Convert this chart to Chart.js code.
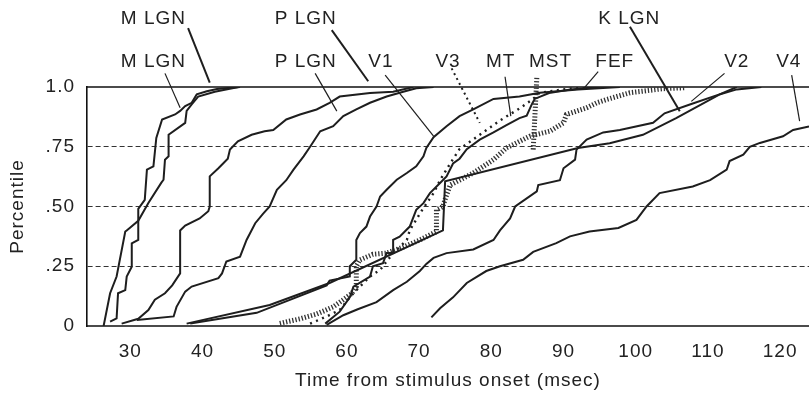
<!DOCTYPE html>
<html><head><meta charset="utf-8">
<script src="https://cdn.jsdelivr.net/npm/chart.js@4/dist/chart.umd.min.js"></script>
<style>html,body{margin:0;padding:0;background:#fff;}#wrap{width:809px;height:396px;}</style>
</head><body><div id="wrap"><canvas id="c" width="809" height="396"></canvas></div>
<script>
// ---- tick values / labels ----
const xTickValues = [30,40,50,60,70,80,90,100,110,120];
const xTickLabels = ['30','40','50','60','70','80','90','100','110','120'];
const yTickValues = [0,0.25,0.5,0.75,1];
const yTickLabels = ['0','.25','.50','.75','1.0'];
const gridValues = [0.25,0.5,0.75];

// ---- series (time msec, percentile) ----
const mLgnA_t = [26.3,27.2,28.1,29.3,29.5,31.1,32.5,34.3,34.6,34.8,35.3,35.3,37.6,37.8,38.5,39.4,41.7,45.0];
const mLgnA_p = [0,0.137,0.207,0.395,0.40,0.44,0.515,0.60,0.612,0.696,0.71,0.80,0.85,0.90,0.927,0.96,0.98,1.0];
const mLgnB_t = [27.2,28.1,28.3,29.3,29.5,30.2,30.2,31.1,31.1,32.0,32.3,33.2,33.6,34.4,36.2,36.9,37.6,38.5,39.2,40.6,42.0,45.2];
const mLgnB_p = [0.018,0.032,0.137,0.15,0.207,0.248,0.346,0.36,0.49,0.528,0.654,0.668,0.787,0.864,0.885,0.90,0.92,0.934,0.969,0.982,0.992,1.0];
const pLgnC_t = [28.8,31.1,32.5,33.4,34.8,35.8,36.9,36.9,37.6,39.6,40.8,41.0,41.0,42.2,43.5,43.8,44.9,46.8,48.6,49.8,51.6,53.5,55.8,57.6,59.0,63.2,66.4,69.2];
const pLgnC_p = [0.01,0.03,0.067,0.11,0.137,0.17,0.22,0.40,0.42,0.45,0.48,0.50,0.626,0.66,0.70,0.738,0.773,0.80,0.815,0.82,0.864,0.885,0.906,0.934,0.96,0.975,0.98,1.0];
const pLgnD_t = [30.9,36.0,36.4,37.6,38.5,42.2,42.7,43.3,45.2,46.1,47.3,48.4,49.3,50.3,51.6,52.6,54.0,54.9,56.3,58.1,59.5,61.3,63.2,65.5,67.8,69.6,72.0];
const pLgnD_p = [0.025,0.04,0.08,0.144,0.165,0.20,0.22,0.27,0.29,0.36,0.43,0.47,0.50,0.57,0.61,0.654,0.71,0.75,0.815,0.836,0.878,0.906,0.934,0.96,0.98,0.995,1.0];
const kLgn_t = [37.8,49.3,57.6,73.3,73.6,92.0,96.4,101.0,105.6,111.7,114.0];
const kLgn_p = [0.01,0.088,0.18,0.40,0.605,0.745,0.765,0.80,0.87,0.97,1.0];
const v1_t = [38.3,47.5,57.2,57.6,60.4,60.4,61.3,61.3,61.8,62.7,63.2,64.1,64.6,65.5,66.9,68.3,69.6,70.6,71.0,72.0,73.8,75.6,77.5,80.3,83.9,86.7,92.0,97.8];
const v1_p = [0.01,0.055,0.17,0.19,0.207,0.25,0.277,0.36,0.389,0.416,0.458,0.50,0.542,0.57,0.612,0.64,0.668,0.71,0.745,0.79,0.836,0.878,0.906,0.95,0.96,0.976,0.99,1.0];
const v2_t = [57.2,59.5,61.5,64.1,66.4,68.3,70.1,71.0,72.0,73.8,77.5,80.3,81.2,82.6,83.3,86.3,86.5,89.5,90.0,91.6,91.8,93.2,95.5,97.8,102.4,104.0,107.5,111.7,114.0,117.4];
const v2_p = [0.005,0.045,0.07,0.10,0.15,0.185,0.23,0.26,0.285,0.305,0.32,0.36,0.40,0.45,0.50,0.563,0.59,0.61,0.66,0.696,0.738,0.78,0.81,0.82,0.85,0.89,0.927,0.97,0.99,1.0];
const v3_t = [54.9,57.2,59.0,60.4,61.8,63.2,64.6,65.5,66.4,67.3,68.3,68.7,70.3,72.0,72.9,74.3,75.6,78.4,81.2,83.9,85.8,86.7,90.0,93.0];
const v3_p = [0.01,0.04,0.067,0.12,0.165,0.207,0.235,0.27,0.305,0.33,0.36,0.40,0.48,0.556,0.61,0.68,0.74,0.80,0.86,0.91,0.95,0.976,0.99,1.0];
const mt_t = [57.0,59.0,60.4,60.9,63.2,63.6,65.0,65.5,66.4,66.4,67.3,68.7,69.6,70.6,71.5,72.9,73.8,74.7,75.6,76.6,78.4,80.3,82.1,83.9,84.9,85.6,86.0,88.0,91.0,95.0];
const mt_p = [0.01,0.06,0.12,0.165,0.207,0.25,0.263,0.305,0.305,0.36,0.374,0.416,0.486,0.514,0.556,0.598,0.626,0.68,0.70,0.74,0.78,0.81,0.84,0.87,0.88,0.927,0.95,0.975,0.99,1.0];
const mst_t = [50.7,53.5,55.8,58.1,59.5,60.7,61.3,61.3,61.8,63.6,65.5,67.8,70.1,72.4,72.4,73.3,73.6,74.3,77.5,80.3,82.1,84.4,85.3,88.1,90.0,90.4,93.2,94.6,96.0,99.2,103.8,106.8];
const mst_p = [0.011,0.03,0.05,0.08,0.11,0.137,0.165,0.25,0.277,0.30,0.305,0.33,0.36,0.395,0.486,0.50,0.53,0.59,0.64,0.696,0.745,0.78,0.794,0.815,0.85,0.885,0.913,0.934,0.948,0.976,0.993,0.997];
const v4_t = [71.7,72.9,74.7,76.6,79.3,81.2,84.4,85.8,89.0,90.9,93.6,97.6,100.1,101.5,103.3,107.9,110.3,112.6,113.0,114.9,115.8,117.2,120.4,121.8,124.0];
const v4_p = [0.036,0.074,0.12,0.18,0.23,0.25,0.277,0.31,0.347,0.375,0.395,0.41,0.444,0.50,0.556,0.584,0.61,0.654,0.69,0.717,0.75,0.766,0.794,0.82,0.835];

// ---- labels and leader lines ----
const labelNames = ['M LGN','M LGN','P LGN','P LGN','V1','V3','MT','MST','FEF','K LGN','V2','V4'];
const labelX = [33.2,33.2,54.3,54.3,64.7,74.0,81.3,88.2,97.1,99.1,114.0,121.2];
const labelY = [1.285,1.105,1.285,1.105,1.105,1.105,1.105,1.105,1.105,1.285,1.105,1.105];
const leaderX1 = [38.0,34.8,57.9,55.6,65.3,74.5,81.9,86.3,94.8,99.2,112.3,121.6];
const leaderY1 = [1.246,1.057,1.238,1.057,1.05,1.078,1.043,1.038,1.064,1.252,1.057,1.05];
const leaderX2 = [41.0,36.9,62.95,58.6,72.0,78.4,82.7,85.8,92.7,106.1,107.7,122.7];
const leaderY2 = [1.018,0.913,1.024,0.899,0.794,0.85,0.878,0.738,0.99,0.899,0.94,0.857];
const leaderKind = ['thick','thin','thick','thin','thin','dot','thin','hatch','thin','thick','thin','thin'];

const INK = '#1e1e1e';
const FONT = '"Liberation Sans", Arial, Helvetica, sans-serif';
const pts = (t,p) => t.map((v,i)=>({x:v,y:p[i]}));
const solid = (t,p) => ({data:pts(t,p), borderColor:INK, borderWidth:2, pointRadius:0, tension:0, fill:false});

const datasets = [
  solid(mLgnA_t,mLgnA_p), solid(mLgnB_t,mLgnB_p),
  solid(pLgnC_t,pLgnC_p), solid(pLgnD_t,pLgnD_p),
  solid(kLgn_t,kLgn_p), solid(v1_t,v1_p), solid(v2_t,v2_p), solid(mt_t,mt_p), solid(v4_t,v4_p),
  Object.assign(solid(v3_t,v3_p), {borderWidth:2.4, borderDash:[2,4.5]}),
  Object.assign(solid(mst_t,mst_p), {borderWidth:5, borderDash:[1.3,1.9], borderColor:'#333'})
];
labelNames.forEach((n,i)=>{
  const k = leaderKind[i];
  const d = {data:[{x:leaderX1[i],y:leaderY1[i]},{x:leaderX2[i],y:leaderY2[i]}], borderColor:INK, pointRadius:0, clip:false, fill:false,
    borderWidth: k==='thick'?2:(k==='hatch'?5:(k==='dot'?2:1.2))};
  if (k==='dot') d.borderDash=[2,3.5];
  if (k==='hatch') {d.borderDash=[1.3,1.9]; d.borderColor='#333';}
  datasets.push(d);
});

const annot = {
  id:'annot',
  beforeDraw(chart){ chart.ctx.letterSpacing='1px'; },
  beforeDatasetsDraw(chart){
    const {ctx, chartArea:a, scales:{x,y}} = chart;
    ctx.save();
    ctx.strokeStyle = '#111'; ctx.lineWidth = 1.6;
    ctx.beginPath();
    ctx.moveTo(a.left, y.getPixelForValue(1)); ctx.lineTo(a.right, y.getPixelForValue(1));
    ctx.moveTo(a.left, y.getPixelForValue(0)); ctx.lineTo(a.right, y.getPixelForValue(0));
    ctx.stroke();
    ctx.restore();
  },
  afterDraw(chart){
    const {ctx, scales:{x,y}} = chart;
    ctx.save();
    ctx.letterSpacing='1px';
    ctx.fillStyle = '#222'; ctx.font = '19px '+FONT;
    ctx.textAlign='center'; ctx.textBaseline='middle';
    labelNames.forEach((n,i)=> ctx.fillText(n, x.getPixelForValue(labelX[i]), y.getPixelForValue(labelY[i])));
    ctx.restore();
  }
};

new Chart(document.getElementById('c'), {
  type:'line',
  data:{datasets},
  options:{
    responsive:false, animation:false, devicePixelRatio:1,
    layout:{padding:{top:87,right:0,left:0,bottom:0}},
    plugins:{legend:{display:false}, tooltip:{enabled:false}},
    font:{family:FONT},
    scales:{
      x:{type:'linear', min:24, max:124,
        afterBuildTicks:s=>{s.ticks = xTickValues.map(v=>({value:v}));},
        afterFit:s=>{s.height=70; s.paddingLeft=0; s.paddingRight=0;},
        ticks:{padding:14, color:'#222', font:{size:19, family:FONT}, maxRotation:0, autoSkip:false,
          callback:(v)=>xTickLabels[xTickValues.indexOf(v)]},
        grid:{display:false, drawTicks:false},
        border:{display:false},
        title:{display:true, text:'Time from stimulus onset (msec)', color:'#222', font:{size:19, family:FONT}, padding:{top:0,bottom:4}}
      },
      y:{type:'linear', min:0, max:1,
        afterBuildTicks:s=>{s.ticks = yTickValues.map(v=>({value:v}));},
        afterFit:s=>{s.width=87; s.paddingTop=0; s.paddingBottom=0;},
        ticks:{padding:12, color:'#222', font:{size:19, family:FONT},
          callback:(v)=>yTickLabels[yTickValues.indexOf(v)]},
        grid:{drawTicks:false, lineWidth:1, color:(c)=> gridValues.includes(c.tick && c.tick.value) ? '#333' : 'rgba(0,0,0,0)'},
        border:{display:true, color:'#111', width:1.6, dash:[5,3]},
        title:{display:true, text:'Percentile', color:'#222', font:{size:19, family:FONT}, padding:{top:6,bottom:0}}
      }
    }
  },
  plugins:[annot]
});
</script></body></html>
